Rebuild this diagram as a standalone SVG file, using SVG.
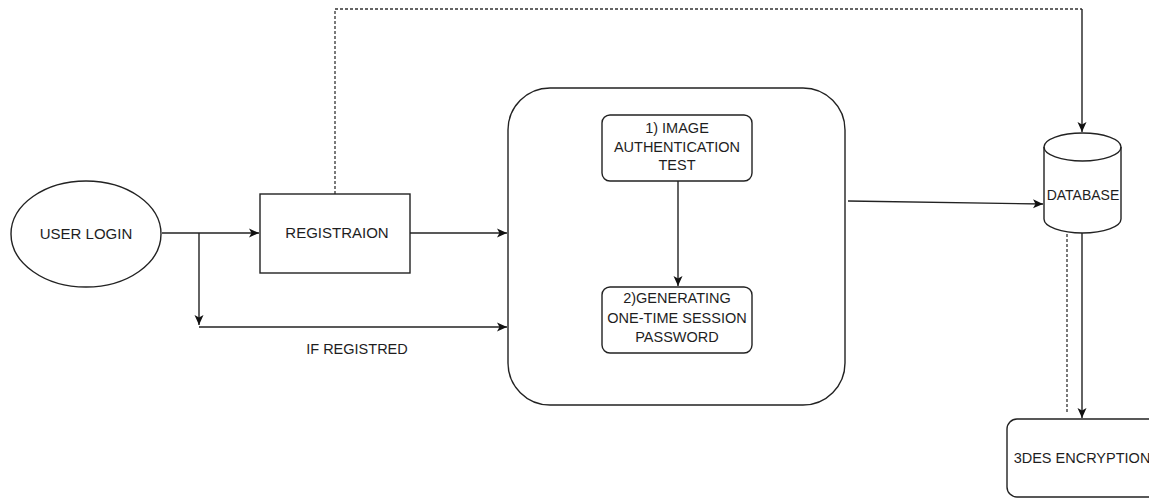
<svg xmlns="http://www.w3.org/2000/svg" width="1149" height="498" viewBox="0 0 1149 498">
  <defs>
    <marker id="arrow" viewBox="0 0 10 10" refX="10" refY="5" markerWidth="10" markerHeight="10" markerUnits="userSpaceOnUse" orient="auto">
      <path d="M0,0.5 L10,5 L0,9.5 L2.5,5 Z" fill="#111"/>
    </marker>
    <style>
      .shape { fill: #fff; stroke: #222; stroke-width: 1.4; }
      .line { fill: none; stroke: #222; stroke-width: 1.4; }
      .dash { fill: none; stroke: #333; stroke-width: 1.3; stroke-dasharray: 3 2; }
      .lbl { font-family: "Liberation Sans", Arial, sans-serif; font-size: 14.5px; fill: #1e1e1e; text-anchor: middle; }
    </style>
  </defs>

  <rect width="1149" height="498" fill="#fff"/>

  <!-- container for the authentication steps, drawn under the connectors -->
  <g id="process-block">
    <rect class="shape" x="508" y="88" width="337" height="317" rx="42" ry="42"/>
  </g>

  <!-- connectors -->
  <g id="connectors">
    <!-- registration to database (dashed route over the top) -->
    <path class="dash" d="M335,194 L335,9 L1082,9"/>
    <path class="line" d="M1082,9 L1082,132" marker-end="url(#arrow)"/>
    <!-- user login to registration -->
    <path class="line" d="M162,233 L259,233" marker-end="url(#arrow)"/>
    <!-- branch for already registered users -->
    <path class="line" d="M199,233 L199,325" marker-end="url(#arrow)"/>
    <path class="line" d="M199,327 L507,327" marker-end="url(#arrow)"/>
    <!-- registration to process block -->
    <path class="line" d="M410,233 L507,233" marker-end="url(#arrow)"/>
    <!-- step 1 to step 2 -->
    <path class="line" d="M678,181 L678,286" marker-end="url(#arrow)"/>
    <!-- process block to database -->
    <path class="line" d="M848,201 L1043,204" marker-end="url(#arrow)"/>
    <!-- database to encryption -->
    <path class="dash" d="M1067,234 L1067,413"/>
    <path class="line" d="M1082,233 L1082,418" marker-end="url(#arrow)"/>
  </g>

  <g id="user-login">
    <ellipse class="shape" cx="86" cy="234" rx="75" ry="53"/>
    <text class="lbl" x="86" y="239" style="font-size:15px">USER LOGIN</text>
  </g>

  <g id="registration">
    <rect class="shape" x="260" y="194" width="150" height="79"/>
    <text class="lbl" x="337" y="238" style="font-size:15px">REGISTRAION</text>
  </g>

  <g id="if-registered-label">
    <text class="lbl" x="357" y="354">IF REGISTRED</text>
  </g>

  <g id="image-auth">
    <rect class="shape" x="602" y="115" width="150" height="66" rx="8" ry="8"/>
    <text class="lbl" x="677" y="133">1) IMAGE</text>
    <text class="lbl" x="677" y="152">AUTHENTICATION</text>
    <text class="lbl" x="677" y="170">TEST</text>
  </g>

  <g id="otp">
    <rect class="shape" x="602" y="287" width="150" height="66" rx="8" ry="8"/>
    <text class="lbl" x="677" y="303">2)GENERATING</text>
    <text class="lbl" x="677" y="323">ONE-TIME SESSION</text>
    <text class="lbl" x="677" y="342">PASSWORD</text>
  </g>

  <g id="database">
    <path class="shape" d="M1044,147 A38.5,14 0 0 1 1121,147 L1121,219 A38.5,14 0 0 1 1044,219 Z"/>
    <path class="line" d="M1044,147 A38.5,14 0 0 0 1121,147"/>
    <text class="lbl" x="1083" y="200" style="font-size:14px">DATABASE</text>
  </g>

  <g id="encryption">
    <rect class="shape" x="1007" y="419" width="162" height="78" rx="10" ry="10"/>
    <text class="lbl" x="1082" y="463" style="font-size:14.5px">3DES ENCRYPTION</text>
  </g>
</svg>
